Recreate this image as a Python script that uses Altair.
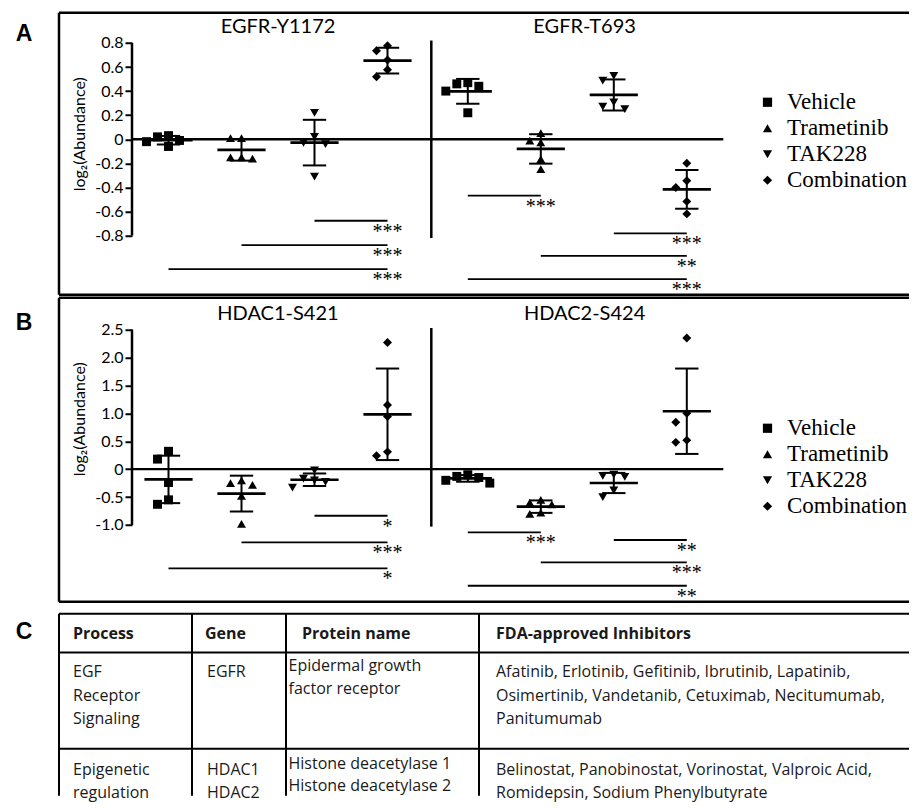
import altair as alt
import numpy as np
import pandas as pd

# ---------------- data ----------------
GROUPS = ["Vehicle", "Trametinib", "TAK228", "Combination"]
SHAPES = ["square", "triangle-up", "triangle-down", "diamond"]

EGFR_Y1172 = {
    "Vehicle": [0.02, 0.03, -0.01, -0.06, -0.02],
    "Trametinib": [0.01, 0.01, -0.15, -0.16, -0.15],
    "TAK228": [0.22, 0.02, -0.03, -0.04, -0.31],
    "Combination": [0.776, 0.735, 0.658, 0.577, 0.519],
}
EGFR_T693 = {
    "Vehicle": [0.47, 0.46, 0.44, 0.40, 0.22],
    "Trametinib": [0.05, -0.012, -0.027, -0.165, -0.248],
    "TAK228": [0.527, 0.486, 0.306, 0.27, 0.25],
    "Combination": [-0.20, -0.345, -0.40, -0.516, -0.62],
}
HDAC1_S421 = {
    "Vehicle": [0.32, 0.18, -0.24, -0.55, -0.63],
    "Trametinib": [-0.20, -0.25, -0.28, -0.48, -0.98],
    "TAK228": [-0.02, -0.17, -0.20, -0.23, -0.33],
    "Combination": [2.27, 1.15, 0.945, 0.31, 0.24],
}
HDAC2_S424 = {
    "Vehicle": [-0.10, -0.13, -0.15, -0.20, -0.25],
    "Trametinib": [-0.55, -0.60, -0.63, -0.78, -0.80],
    "TAK228": [-0.10, -0.12, -0.14, -0.38, -0.50],
    "Combination": [2.35, 1.0, 0.84, 0.52, 0.48],
}

# (from group, to group, stars, bracket level in data units)
SIG_Y1172 = [("TAK228", "Combination", "***", -0.677),
             ("Trametinib", "Combination", "***", -0.879),
             ("Vehicle", "Combination", "***", -1.078)]
SIG_T693 = [("Vehicle", "Trametinib", "***", -0.469),
            ("TAK228", "Combination", "***", -0.782),
            ("Trametinib", "Combination", "**", -0.968),
            ("Vehicle", "Combination", "***", -1.161)]
SIG_HDAC1 = [("TAK228", "Combination", "*", -0.835),
             ("Trametinib", "Combination", "***", -1.314),
             ("Vehicle", "Combination", "*", -1.78)]
SIG_HDAC2 = [("Vehicle", "Trametinib", "***", -1.134),
             ("TAK228", "Combination", "**", -1.27),
             ("Trametinib", "Combination", "***", -1.672),
             ("Vehicle", "Combination", "**", -2.09)]

TITLES_A = ["EGFR-Y1172", "EGFR-T693"]
TITLES_B = ["HDAC1-S421", "HDAC2-S424"]
TICKS_A = [0.8, 0.6, 0.4, 0.2, 0.0, -0.2, -0.4, -0.6, -0.8]
TICKS_B = [2.5, 2.0, 1.5, 1.0, 0.5, 0.0, -0.5, -1.0]
Y_TITLE = "log\u2082(Abundance)"

TABLE_HEADER = ["Process", "Gene", "Protein name", "FDA-approved Inhibitors"]
TABLE_ROWS = [
    [["EGF", "Receptor", "Signaling"], ["EGFR"],
     ["Epidermal growth", "factor receptor"],
     ["Afatinib, Erlotinib, Gefitinib, Ibrutinib, Lapatinib,",
      "Osimertinib, Vandetanib, Cetuximab, Necitumumab,",
      "Panitumumab"]],
    [["Epigenetic", "regulation"], ["HDAC1", "HDAC2"],
     ["Histone deacetylase 1", "Histone deacetylase 2"],
     ["Belinostat, Panobinostat, Vorinostat, Valproic Acid,",
      "Romidepsin, Sodium Phenylbutyrate"]],
]

# ---------------- layout / style ----------------
W = 850
PX_PER_X = 73.0
X_MIN = -1.5
X_MAX = X_MIN + W / PX_PER_X
SUB_SHIFT = 4.1
AXIS_GAP = 0.5
SANS = "Lato"
TSANS = "Open Sans"
SERIF = "Liberation Serif"
BOLD = "Liberation Sans"
ROW_SPACING = 3


def pos(sub, g):
    return sub * SUB_SHIFT + GROUPS.index(g)


def spread(vals, ppu_y, step=11.0, min_d=9.0):
    order = sorted(range(len(vals)), key=lambda i: -vals[i])
    placed, out = [], [0.0] * len(vals)
    for i in order:
        yp = -vals[i] * ppu_y
        xp = 0.0
        for k in (0, -1, 1, -2, 2, -3, 3):
            xp = k * step
            if all((xp - a) ** 2 + (yp - b) ** 2 >= min_d ** 2 for a, b in placed):
                break
        placed.append((xp, yp))
        out[i] = xp / PX_PER_X
    return out


LABEL_EXPR = ("datum.value == 0 ? '0' : (datum.value < 0 ? '-' + format(-datum.value, '.1f')"
              " : format(datum.value, '.1f'))")


def row_chart(datasets, sigs, titles, ticks, height, zero_px, ppu_y,
              letter, letter_y, title_y, legend_y, axis_title_y, right_axis_ext):
    y_top = zero_px / ppu_y
    y_bot = -(height - zero_px) / ppu_y
    xs = alt.Scale(domain=[X_MIN, X_MAX], nice=False, zero=False)
    ys = alt.Scale(domain=[y_bot, y_top], nice=False, zero=False)
    yaxis = alt.Axis(values=ticks, offset=-(X_MIN * -1 - AXIS_GAP) * PX_PER_X,
                     domain=False, grid=False, tickSize=7, tickWidth=2, tickColor="black",
                     labelFont=SANS, labelFontSize=16, labelColor="black", labelPadding=2,
                     labelExpr=LABEL_EXPR, title=Y_TITLE, titleFont=SANS, titleFontSize=16,
                     titleFontWeight="normal", titleColor="black", titleX=-53,
                     titleY=axis_title_y, titleAngle=270, titleAlign="center",
                     titleBaseline="middle")

    def X(f):
        return alt.X(f, type="quantitative", scale=xs, axis=None)

    def Y(f):
        return alt.Y(f, type="quantitative", scale=ys, axis=yaxis)

    pts, summ, caps, sig_rows, title_rows = [], [], [], [], []
    for sub, ds in enumerate(datasets):
        for g in GROUPS:
            vals = ds[g]
            offs = spread(vals, ppu_y)
            for v, o in zip(vals, offs):
                pts.append(dict(group=g, value=v, x=pos(sub, g) + o))
            m = float(np.mean(vals))
            s = float(np.std(vals, ddof=1))
            p = pos(sub, g)
            summ.append(dict(x=p, xl=p - 0.33, xr=p + 0.33, mean=m, lo=m - s, hi=m + s))
            caps.append(dict(xl=p - 0.16, xr=p + 0.16, y=m - s))
            caps.append(dict(xl=p - 0.16, xr=p + 0.16, y=m + s))
        for a, b, stars, lvl in sigs[sub]:
            sig_rows.append(dict(xl=pos(sub, a), xr=pos(sub, b), y=lvl, stars=stars))
        title_rows.append(dict(x=sub * SUB_SHIFT + 1.5 + 0.1 * sub, text=titles[sub]))

    pts = pd.DataFrame(pts)
    summ = pd.DataFrame(summ)
    caps = pd.DataFrame(caps)
    sig_df = pd.DataFrame(sig_rows)
    axes_df = pd.DataFrame([
        dict(x=-AXIS_GAP, xe=-AXIS_GAP, y=min(ticks), ye=max(ticks)),
        dict(x=SUB_SHIFT - AXIS_GAP, xe=SUB_SHIFT - AXIS_GAP,
             y=min(ticks) - right_axis_ext, ye=max(ticks) + right_axis_ext),
    ])
    zero_df = pd.DataFrame([dict(x=-AXIS_GAP, xe=SUB_SHIFT + 3.5, y=0.0)])
    # panel frame: top, bottom and left edges (the right edge lies outside the figure)
    hframe = pd.DataFrame([dict(x=X_MIN, xe=X_MAX, y=y_top), dict(x=X_MIN, xe=X_MAX, y=y_bot)])
    vframe = pd.DataFrame([dict(x=X_MIN, y=y_bot, ye=y_top)])

    frame_h = alt.Chart(hframe).mark_rule(color="black", strokeWidth=2.5).encode(
        x=X("x"), x2="xe", y=Y("y"))
    frame_v = alt.Chart(vframe).mark_rule(color="black", strokeWidth=2.5).encode(
        x=X("x"), y=Y("y"), y2="ye")
    zero = alt.Chart(zero_df).mark_rule(color="black", strokeWidth=2.4).encode(
        x=X("x"), x2="xe", y=Y("y"))
    axes = alt.Chart(axes_df).mark_rule(color="black", strokeWidth=2.5).encode(
        x=X("x"), y=Y("y"), y2="ye")
    points = alt.Chart(pts).mark_point(filled=True, size=80, opacity=1, color="black",
                                       strokeWidth=0).encode(
        x=X("x"), y=Y("value"),
        shape=alt.Shape("group:N", scale=alt.Scale(domain=GROUPS, range=SHAPES),
                        legend=alt.Legend(orient="none", legendX=697, legendY=legend_y,
                                          title=None, labelFont=SERIF, labelFontSize=23,
                                          labelColor="black", symbolSize=85,
                                          symbolFillColor="black", symbolStrokeColor="black",
                                          symbolStrokeWidth=0, labelOffset=8,
                                          rowPadding=2, padding=0)))
    means = alt.Chart(summ).mark_rule(color="black", strokeWidth=2.7).encode(
        x=X("xl"), x2="xr", y=Y("mean"))
    whisk = alt.Chart(summ).mark_rule(color="black", strokeWidth=2).encode(
        x=X("x"), y=Y("lo"), y2="hi")
    capm = alt.Chart(caps).mark_rule(color="black", strokeWidth=2).encode(
        x=X("xl"), x2="xr", y=Y("y"))
    siglines = alt.Chart(sig_df).mark_rule(color="black", strokeWidth=1.8).encode(
        x=X("xl"), x2="xr", y=Y("y"))
    sigtext = alt.Chart(sig_df).mark_text(font=SERIF, fontSize=20, baseline="top", dy=1,
                                          align="center", color="black").encode(
        x=X("xr"), y=Y("y"), text="stars:N")
    ttl = alt.Chart(pd.DataFrame(title_rows)).mark_text(
        font=SANS, fontSize=20, baseline="middle", align="center", color="black").encode(
        x=X("x"), y=alt.value(title_y), text="text:N")
    let = alt.Chart(pd.DataFrame([dict(t=letter)])).mark_text(
        font=BOLD, fontWeight="bold", fontSize=23, baseline="middle", align="center",
        color="black").encode(x=alt.value(-35), y=alt.value(letter_y), text="t:N")

    return alt.layer(frame_h, frame_v, zero, axes, points, means, whisk, capm, siglines,
                     sigtext, ttl, let).properties(
        width=W, height=height, view=alt.ViewBackground(stroke="transparent"))


row_a = row_chart([EGFR_Y1172, EGFR_T693], [SIG_Y1172, SIG_T693], TITLES_A, TICKS_A,
                  height=282, zero_px=126.5, ppu_y=120.4, letter="A", letter_y=21,
                  title_y=14, legend_y=78, axis_title_y=121, right_axis_ext=0.02)
row_b = row_chart([HDAC1_S421, HDAC2_S424], [SIG_HDAC1, SIG_HDAC2], TITLES_B, TICKS_B,
                  height=304, zero_px=171.4, ppu_y=55.8, letter="B", letter_y=25,
                  title_y=16, legend_y=119, axis_title_y=121, right_axis_ext=0.03)

# ---------------- table ----------------
TABLE_GAP = 9          # extra space between panel B and the table
TABLE_H = 182
COL_X = [0, 133, 227, 420]
ROW_Y = [0, 38.7, 135]
HEAD_PAD = [14, 13, 16, 17]
BODY_PAD = [14, 15, 2.5, 17]
FIRST_LINE = [20, 21.5]
PROTEIN_SHIFT = -6.5
LINE_H = [23.5, 22.5]

texts = []
for c, h in enumerate(TABLE_HEADER):
    texts.append(dict(x=COL_X[c] + HEAD_PAD[c], y=20, text=h, w="bold"))
for r, row in enumerate(TABLE_ROWS):
    for c, cell in enumerate(row):
        for j, line in enumerate(cell):
            yy = ROW_Y[r + 1] + FIRST_LINE[r] + j * LINE_H[r] + (PROTEIN_SHIFT if c == 2 else 0)
            texts.append(dict(x=COL_X[c] + BODY_PAD[c], y=yy, text=line, w="normal"))
texts = pd.DataFrame(texts)

lines = [dict(x=0, xe=W, y=0, ye=0), dict(x=0, xe=0, y=0, ye=TABLE_H)]
for cx in COL_X[1:]:
    lines.append(dict(x=cx, xe=cx, y=0, ye=TABLE_H))
for ry in ROW_Y[1:]:
    lines.append(dict(x=0, xe=W, y=ry, ye=ry))
lines = pd.DataFrame(lines)

tx = alt.Scale(domain=[0, W], nice=False, zero=False)
ty = alt.Scale(domain=[-TABLE_GAP, TABLE_H], nice=False, zero=False, reverse=True)

t_lines = alt.Chart(lines).mark_rule(color="black", strokeWidth=2).encode(
    x=alt.X("x:Q", scale=tx, axis=None), x2="xe",
    y=alt.Y("y:Q", scale=ty, axis=None), y2="ye")
t_bold = alt.Chart(texts[texts.w == "bold"]).mark_text(
    font=TSANS, fontSize=16, fontWeight="bold", align="left", baseline="middle",
    color="#1a1a1a").encode(
    x=alt.X("x:Q", scale=tx, axis=None), y=alt.Y("y:Q", scale=ty, axis=None), text="text:N")
t_norm = alt.Chart(texts[texts.w == "normal"]).mark_text(
    font=TSANS, fontSize=16, align="left", baseline="middle", color="#1a1a1a").encode(
    x=alt.X("x:Q", scale=tx, axis=None), y=alt.Y("y:Q", scale=ty, axis=None), text="text:N")
t_let = alt.Chart(pd.DataFrame([dict(t="C")])).mark_text(
    font=BOLD, fontWeight="bold", fontSize=23, baseline="middle", align="center",
    color="black").encode(x=alt.value(-35), y=alt.value(18 + TABLE_GAP), text="t:N")

table = alt.layer(t_lines, t_bold, t_norm, t_let).properties(
    width=W, height=TABLE_H + TABLE_GAP, view=alt.ViewBackground(stroke="transparent"))

chart = alt.vconcat(row_a, row_b, table, spacing=ROW_SPACING, bounds="flush").resolve_scale(
    x="independent", y="independent", shape="independent").properties(
    padding={"left": 7, "top": 2.75, "right": 0, "bottom": 0}, background="white")

chart.save("out.html", embed_options={"renderer": "svg", "actions": False})
